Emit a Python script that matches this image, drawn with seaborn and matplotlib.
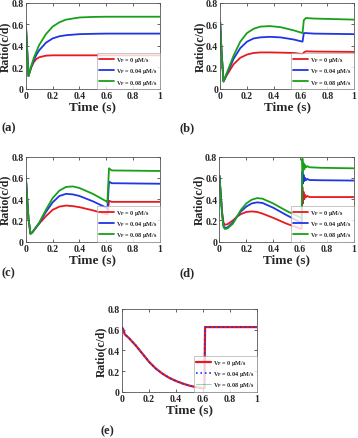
import matplotlib
matplotlib.use("Agg")
import matplotlib.pyplot as plt
import pandas as pd
import seaborn as sns

# Valeurs (temps en s, ratio c/d)
series_names = ["V$_P$ = 0 μM/s", "V$_P$ = 0.04 μM/s", "V$_P$ = 0.08 μM/s"]
colors = ["#e8191e", "#1f35e6", "#18a018"]

t_a = [0, 0.01, 0.02, 0.04, 0.06, 0.08, 0.1, 0.15, 0.2, 0.25, 0.3, 0.4, 0.5, 0.6, 0.8, 1.0]
red_a = [0.62, 0.37, 0.12, 0.20, 0.25, 0.28, 0.295, 0.31, 0.313, 0.313, 0.313, 0.313, 0.313, 0.313, 0.313, 0.313]
blue_a = [0.62, 0.37, 0.12, 0.20, 0.27, 0.32, 0.36, 0.43, 0.47, 0.49, 0.50, 0.51, 0.513, 0.515, 0.515, 0.515]
green_a = [0.62, 0.37, 0.12, 0.21, 0.29, 0.35, 0.41, 0.51, 0.58, 0.62, 0.645, 0.665, 0.67, 0.672, 0.672, 0.672]

t_b = [0, 0.01, 0.025, 0.05, 0.1, 0.15, 0.2, 0.25, 0.3, 0.37, 0.45, 0.55, 0.615, 0.625, 0.64, 0.7, 1.0]
red_b = [0.62, 0.35, 0.07, 0.13, 0.23, 0.29, 0.32, 0.335, 0.34, 0.34, 0.338, 0.335, 0.325, 0.34, 0.35, 0.348, 0.345]
blue_b = [0.62, 0.35, 0.07, 0.14, 0.28, 0.38, 0.44, 0.47, 0.48, 0.485, 0.48, 0.46, 0.44, 0.52, 0.52, 0.515, 0.51]
green_b = [0.62, 0.35, 0.07, 0.15, 0.31, 0.44, 0.52, 0.56, 0.58, 0.585, 0.575, 0.545, 0.52, 0.64, 0.66, 0.655, 0.645]

t_c = [0, 0.01, 0.02, 0.035, 0.05, 0.08, 0.1, 0.15, 0.2, 0.25, 0.3, 0.35, 0.4, 0.5, 0.6, 0.608, 0.62, 0.64, 1.0]
red_c = [0.62, 0.42, 0.22, 0.075, 0.09, 0.14, 0.17, 0.24, 0.30, 0.33, 0.34, 0.335, 0.325, 0.295, 0.26, 0.255, 0.385, 0.375, 0.375]
blue_c = [0.62, 0.42, 0.22, 0.075, 0.09, 0.14, 0.175, 0.28, 0.37, 0.43, 0.45, 0.445, 0.43, 0.38, 0.32, 0.31, 0.565, 0.55, 0.545]
green_c = [0.62, 0.42, 0.22, 0.075, 0.09, 0.145, 0.18, 0.30, 0.41, 0.48, 0.515, 0.52, 0.505, 0.45, 0.38, 0.37, 0.69, 0.67, 0.665]

t_d = [0, 0.01, 0.02, 0.03, 0.04, 0.06, 0.1, 0.13, 0.16, 0.2, 0.24, 0.28, 0.32, 0.4, 0.5, 0.6, 0.612,
       0.618, 0.622, 0.626, 0.632, 0.638, 0.645, 0.655, 0.67, 0.75, 1.0]
red_d = [0.62, 0.45, 0.28, 0.18, 0.16, 0.165, 0.20, 0.235, 0.26, 0.28, 0.285, 0.28, 0.265, 0.225, 0.17, 0.125, 0.12,
         0.51, 0.36, 0.47, 0.40, 0.44, 0.42, 0.43, 0.42, 0.42, 0.42]
blue_d = [0.62, 0.44, 0.26, 0.15, 0.13, 0.135, 0.18, 0.235, 0.285, 0.33, 0.36, 0.37, 0.365, 0.32, 0.25, 0.185, 0.18,
          0.66, 0.55, 0.63, 0.57, 0.60, 0.58, 0.59, 0.58, 0.578, 0.575]
green_d = [0.62, 0.43, 0.25, 0.14, 0.12, 0.125, 0.17, 0.235, 0.30, 0.36, 0.395, 0.41, 0.405, 0.36, 0.29, 0.23, 0.225,
           0.78, 0.66, 0.74, 0.68, 0.72, 0.70, 0.71, 0.70, 0.695, 0.69]

t_e = [0, 0.01, 0.02, 0.05, 0.1, 0.15, 0.2, 0.25, 0.3, 0.35, 0.4, 0.45, 0.5, 0.55, 0.6, 0.61, 0.615, 1.0]
ratio_e = [0.62, 0.60, 0.555, 0.52, 0.45, 0.37, 0.29, 0.225, 0.175, 0.135, 0.105, 0.08, 0.06, 0.045, 0.035, 0.035, 0.625, 0.625]

xticks = [0, 0.2, 0.4, 0.6, 0.8, 1]
xticklabels = ["0", "0.2", "0.4", "0.6", "0.8", "1"]
yticks = [0, 0.2, 0.4, 0.6, 0.8]
yticklabels = ["0", "0.2", "0.4", "0.6", "0.8"]

sns.set_style("ticks")
plt.rcParams["font.family"] = ["Liberation Serif", "DejaVu Serif"]
plt.rcParams["font.weight"] = "bold"
plt.rcParams["mathtext.fontset"] = "custom"
plt.rcParams["mathtext.rm"] = "Liberation Serif:bold"
plt.rcParams["mathtext.it"] = "Liberation Serif:bold"
plt.rcParams["mathtext.bf"] = "Liberation Serif:bold"
plt.rcParams["mathtext.default"] = "bf"

fig = plt.figure(figsize=(3.58, 4.39), dpi=100)

LEG_KW = dict(loc="lower right", fontsize=4.4, borderaxespad=0, fancybox=False,
              handlelength=2.4, labelspacing=0.35, borderpad=0.4, handletextpad=0.4)


def make_df(t, red, blue, green):
    rows = []
    for name, vals in zip(series_names, [red, blue, green]):
        rows.append(pd.DataFrame({"t": t, "ratio": vals, "serie": name}))
    return pd.concat(rows, ignore_index=True)


def style_axes(ax):
    ax.set_xlim(0, 1)
    ax.set_ylim(0, 0.8)
    ax.set_xticks(xticks)
    ax.set_xticklabels(xticklabels)
    ax.set_yticks(yticks)
    ax.set_yticklabels(yticklabels)
    ax.tick_params(direction="in", length=2, width=0.5, labelsize=7, pad=1.5,
                   top=True, right=True)
    for s in ax.spines.values():
        s.set_linewidth(0.6)
        s.set_color("#555555")
    ax.set_xlabel("Time (s)", fontsize=9.5, fontweight="bold", labelpad=0)
    ax.set_ylabel("Ratio(c/d)", fontsize=8.5, fontweight="bold")
    ax.yaxis.set_label_coords(-0.108, 0.5)


def set_legend(ax, handles=None, labels=None):
    if handles is None:
        leg = ax.legend(**LEG_KW)
    else:
        leg = ax.legend(handles, labels, **LEG_KW)
    leg.get_frame().set_edgecolor("#999999")
    leg.get_frame().set_linewidth(0.5)


panels = [
    ("(a)", [0.072, 0.795, 0.375, 0.196], (t_a, red_a, blue_a, green_a), (0.005, 0.702)),
    ("(b)", [0.615, 0.795, 0.374, 0.196], (t_b, red_b, blue_b, green_b), (0.500, 0.702)),
    ("(c)", [0.072, 0.447, 0.375, 0.194], (t_c, red_c, blue_c, green_c), (0.005, 0.370)),
    ("(d)", [0.613, 0.447, 0.375, 0.194], (t_d, red_d, blue_d, green_d), (0.500, 0.370)),
]

for label, rect, data, lab_pos in panels:
    ax = fig.add_axes(rect)
    df = make_df(*data)
    sns.lineplot(data=df, x="t", y="ratio", hue="serie", palette=colors,
                 estimator=None, sort=False, linewidth=1.3, ax=ax)
    style_axes(ax)
    set_legend(ax)
    fig.text(lab_pos[0], lab_pos[1], label, fontsize=9, fontweight="bold")

# Panneau (e) : les trois courbes sont confondues
ax = fig.add_axes([0.341, 0.105, 0.377, 0.189])
sns.lineplot(x=t_e, y=ratio_e, color=colors[2], linewidth=0.6, alpha=0.5,
             label=series_names[2], ax=ax, zorder=1)
sns.lineplot(x=t_e, y=ratio_e, color=colors[0], linewidth=1.6,
             label=series_names[0], ax=ax, zorder=2)
sns.lineplot(x=t_e, y=ratio_e, color=colors[1], linewidth=1.2, linestyle=":",
             label=series_names[1], ax=ax, zorder=3)
style_axes(ax)
h, l = ax.get_legend_handles_labels()
order = [1, 2, 0]
set_legend(ax, [h[i] for i in order], [l[i] for i in order])
fig.text(0.28, 0.01, "(e)", fontsize=9, fontweight="bold")

fig.savefig("out.png", dpi=100)
